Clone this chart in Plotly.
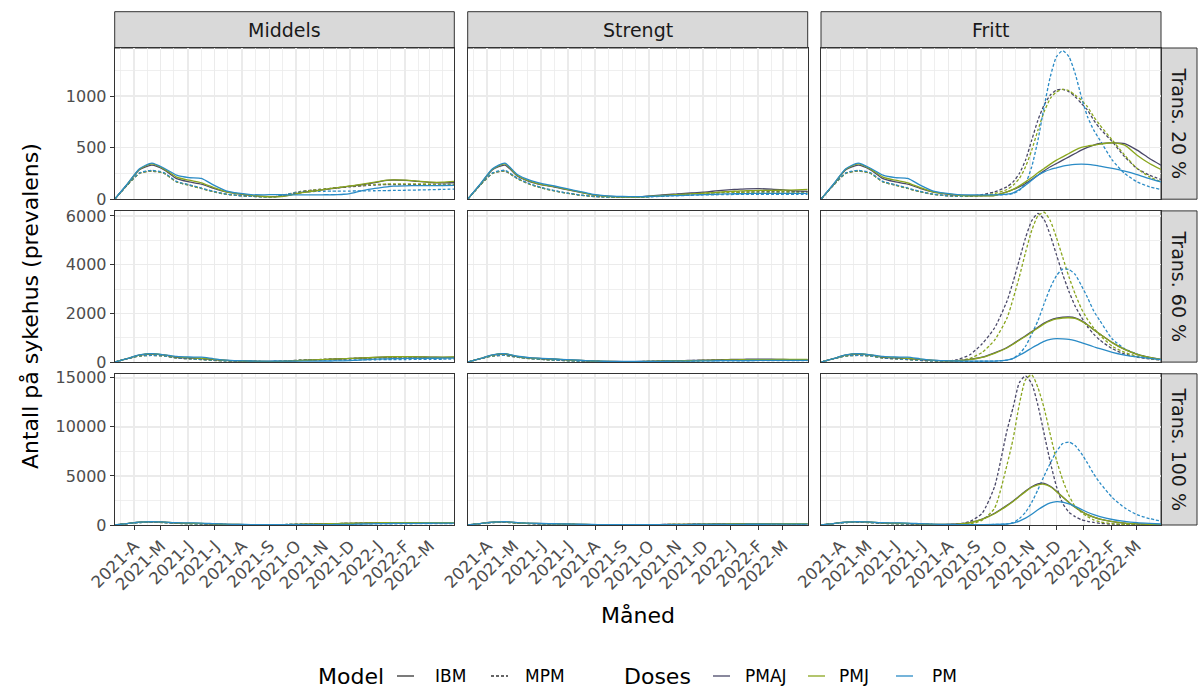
import plotly.graph_objects as go

# ---------------- axes / categories ----------------
dates = ["2021-03-10", "2021-03-24", "2021-04-07", "2021-04-21", "2021-05-05", "2021-05-19",
         "2021-06-02", "2021-06-16", "2021-06-30", "2021-07-14", "2021-07-28", "2021-08-11",
         "2021-08-25", "2021-09-08", "2021-09-22", "2021-10-06", "2021-10-13", "2021-10-20",
         "2021-10-27", "2021-11-03", "2021-11-10", "2021-11-17", "2021-11-24", "2021-12-01",
         "2021-12-08", "2021-12-15", "2021-12-22", "2021-12-29", "2022-01-05", "2022-01-12",
         "2022-01-19", "2022-02-02", "2022-02-16", "2022-03-02", "2022-03-16", "2022-03-29"]
month_ticks = ["2021-04-01", "2021-05-01", "2021-06-01", "2021-07-01", "2021-08-01", "2021-09-01",
               "2021-10-01", "2021-11-01", "2021-12-01", "2022-01-01", "2022-02-01", "2022-03-01"]
month_labels = ["2021-A", "2021-M", "2021-J", "2021-J", "2021-A", "2021-S",
                "2021-O", "2021-N", "2021-D", "2022-J", "2022-F", "2022-M"]
minor_month_ticks = ["2021-03-16", "2021-04-16", "2021-05-16", "2021-06-16", "2021-07-16",
                     "2021-08-16", "2021-09-16", "2021-10-16", "2021-11-16", "2021-12-16",
                     "2022-01-16", "2022-02-16", "2022-03-16"]
columns = ["Middels", "Strengt", "Fritt"]
rows = ["Trans. 20 %", "Trans. 60 %", "Trans. 100 %"]
models = ["MPM", "IBM"]
doses = ["PMAJ", "PMJ", "PM"]
row_y_max = [1466, 6205, 15408]
row_y_dtick = [500, 2000, 5000]

# ---------------- values: first wave (shared by all scenarios) ----------------
early_ibm_pmaj = [0, 140, 285, 330]
early_ibm_pmj = [0, 142, 290, 342]
early_ibm_pm = [0, 145, 295, 350]
early_mpm_pmaj = [0, 135, 250, 272]
early_mpm_pmj = [0, 135, 250, 275]
early_mpm_pm = [0, 138, 255, 280]

# summer (May - mid July)
summer_open_ibm_pmaj = [285, 200, 168, 146, 104, 70]
summer_open_ibm_pmj = [292, 215, 184, 159, 113, 72]
summer_open_ibm_pm = [300, 233, 209, 201, 136, 81]
summer_open_mpm_pmaj = [250, 168, 136, 104, 72, 48]
summer_open_mpm_pmj = [250, 168, 136, 104, 72, 48]
summer_open_mpm_pm = [255, 172, 140, 108, 75, 50]

summer_strict_ibm_pmaj = [225, 170, 138, 118, 92, 68]
summer_strict_ibm_pmj = [230, 175, 142, 122, 95, 70]
summer_strict_ibm_pm = [240, 185, 152, 128, 102, 76]
summer_strict_mpm_pmaj = [200, 145, 108, 80, 58, 40]
summer_strict_mpm_pmj = [200, 145, 108, 80, 58, 40]
summer_strict_mpm_pm = [205, 150, 112, 84, 60, 42]

# ---------------- late period (from end of July) per panel ----------------
M20_IBM_PMAJ = [52, 38, 28, 25, 38, 62, 70, 78, 86, 94, 102, 110, 118, 126, 134, 142, 150, 160, 172, 182, 186, 182, 172, 162, 158, 162]
M20_IBM_PMJ = [54, 38, 26, 22, 35, 60, 68, 77, 86, 95, 104, 112, 120, 128, 137, 146, 155, 165, 176, 185, 188, 185, 175, 165, 165, 172]
M20_IBM_PM = [58, 45, 42, 45, 42, 42, 42, 42, 42, 43, 43, 45, 48, 55, 68, 82, 95, 104, 112, 120, 126, 130, 132, 132, 133, 135]
M20_MPM_PMAJ = [35, 28, 23, 25, 50, 75, 82, 88, 94, 100, 105, 110, 115, 120, 125, 130, 134, 137, 140, 141, 142, 142, 141, 140, 139, 138]
M20_MPM_PMJ = [35, 28, 23, 25, 48, 72, 80, 87, 94, 100, 106, 112, 118, 124, 130, 135, 140, 143, 146, 148, 149, 149, 148, 147, 146, 146]
M20_MPM_PM = [36, 28, 23, 25, 48, 68, 72, 74, 76, 77, 78, 78, 78, 79, 80, 80, 81, 82, 83, 84, 85, 87, 89, 92, 95, 98]

M60_IBM_PMAJ = [52, 38, 28, 25, 40, 68, 78, 88, 98, 108, 118, 128, 138, 148, 158, 168, 178, 190, 202, 212, 218, 222, 215, 205, 198, 200]
M60_IBM_PMJ = [54, 38, 26, 22, 38, 66, 76, 87, 98, 109, 120, 130, 140, 150, 160, 171, 182, 194, 206, 216, 222, 225, 218, 208, 205, 210]
M60_IBM_PM = [58, 45, 42, 45, 42, 42, 42, 43, 44, 45, 46, 48, 52, 60, 75, 90, 105, 118, 128, 136, 142, 150, 155, 158, 160, 162]
M60_MPM_PMAJ = [35, 28, 23, 25, 52, 80, 88, 96, 104, 112, 120, 128, 136, 144, 152, 158, 164, 168, 172, 175, 177, 180, 180, 180, 178, 176]
M60_MPM_PMJ = [35, 28, 23, 25, 50, 78, 86, 95, 104, 113, 122, 130, 138, 146, 154, 161, 167, 172, 176, 180, 182, 184, 184, 183, 182, 180]
M60_MPM_PM = [36, 28, 23, 25, 50, 70, 75, 78, 80, 82, 84, 85, 86, 88, 90, 92, 94, 96, 98, 100, 102, 106, 110, 114, 118, 122]

M100_IBM_PMAJ = [52, 38, 28, 25, 42, 72, 84, 96, 108, 120, 132, 144, 156, 168, 180, 192, 204, 216, 228, 238, 245, 250, 242, 230, 222, 225]
M100_IBM_PMJ = [54, 38, 26, 22, 40, 70, 82, 95, 108, 121, 134, 146, 158, 170, 182, 195, 208, 220, 232, 242, 248, 252, 245, 234, 230, 236]
M100_IBM_PM = [58, 45, 42, 45, 42, 42, 43, 44, 45, 46, 48, 50, 55, 65, 82, 100, 116, 130, 142, 150, 158, 168, 175, 180, 184, 188]
M100_MPM_PMAJ = [35, 28, 23, 25, 55, 85, 95, 105, 115, 125, 135, 145, 155, 165, 174, 182, 188, 193, 197, 200, 202, 205, 205, 204, 202, 200]
M100_MPM_PMJ = [35, 28, 23, 25, 52, 82, 93, 104, 115, 126, 137, 147, 157, 167, 176, 184, 190, 196, 200, 204, 206, 208, 208, 207, 206, 204]
M100_MPM_PM = [36, 28, 23, 25, 52, 74, 80, 84, 88, 90, 92, 94, 96, 98, 101, 104, 107, 110, 113, 116, 120, 126, 132, 138, 144, 150]

S20_IBM_PMAJ = [45, 32, 25, 22, 25, 35, 40, 44, 48, 52, 56, 60, 64, 68, 74, 80, 85, 90, 94, 97, 100, 102, 98, 90, 80, 75]
S20_IBM_PMJ = [45, 30, 23, 20, 22, 30, 34, 38, 42, 45, 48, 52, 55, 58, 62, 66, 70, 74, 77, 80, 82, 85, 86, 88, 90, 94]
S20_IBM_PM = [50, 35, 28, 25, 25, 28, 30, 32, 34, 36, 38, 40, 42, 44, 46, 48, 50, 52, 53, 54, 55, 56, 56, 56, 56, 56]
S20_MPM_PMAJ = [28, 22, 20, 20, 22, 30, 35, 40, 44, 48, 52, 55, 58, 60, 62, 64, 66, 68, 70, 70, 71, 72, 72, 72, 72, 72]
S20_MPM_PMJ = [28, 22, 20, 20, 21, 27, 31, 35, 39, 43, 46, 49, 52, 55, 57, 59, 61, 63, 65, 66, 67, 68, 69, 70, 70, 70]
S20_MPM_PM = [29, 22, 20, 20, 20, 24, 27, 30, 32, 34, 36, 38, 40, 41, 42, 43, 44, 45, 46, 46, 47, 47, 48, 48, 48, 48]

S60_IBM_PMAJ = [45, 32, 25, 22, 26, 38, 44, 49, 54, 59, 64, 69, 74, 79, 85, 92, 98, 104, 109, 113, 116, 119, 116, 108, 98, 92]
S60_IBM_PMJ = [45, 30, 23, 20, 23, 33, 37, 42, 47, 51, 55, 60, 64, 68, 73, 78, 83, 88, 92, 96, 99, 103, 105, 107, 110, 114]
S60_IBM_PM = [50, 35, 28, 25, 25, 29, 31, 34, 37, 39, 42, 44, 47, 49, 52, 55, 58, 60, 62, 64, 65, 67, 68, 69, 70, 70]
S60_MPM_PMAJ = [28, 22, 20, 20, 23, 33, 39, 45, 50, 55, 60, 64, 68, 71, 74, 77, 80, 82, 84, 85, 86, 87, 88, 88, 88, 88]
S60_MPM_PMJ = [28, 22, 20, 20, 22, 30, 35, 40, 45, 50, 54, 58, 62, 65, 68, 71, 74, 76, 78, 80, 81, 83, 84, 85, 85, 85]
S60_MPM_PM = [29, 22, 20, 20, 21, 26, 29, 32, 35, 37, 40, 42, 44, 46, 48, 50, 51, 52, 54, 55, 56, 57, 58, 59, 60, 60]

S100_IBM_PMAJ = [45, 32, 25, 22, 27, 41, 48, 54, 60, 66, 72, 78, 84, 90, 97, 104, 111, 118, 124, 129, 133, 137, 134, 126, 116, 110]
S100_IBM_PMJ = [45, 30, 23, 20, 24, 36, 41, 46, 52, 57, 62, 68, 73, 78, 84, 90, 96, 102, 107, 111, 115, 120, 123, 126, 130, 134]
S100_IBM_PM = [50, 35, 28, 25, 25, 30, 33, 36, 39, 42, 45, 48, 51, 54, 57, 61, 64, 67, 70, 72, 74, 77, 79, 80, 82, 82]
S100_MPM_PMAJ = [28, 22, 20, 20, 24, 36, 43, 50, 56, 62, 67, 72, 77, 81, 85, 89, 92, 95, 97, 99, 100, 102, 103, 104, 104, 104]
S100_MPM_PMJ = [28, 22, 20, 20, 23, 33, 39, 45, 51, 57, 62, 67, 71, 75, 79, 82, 86, 89, 91, 93, 95, 97, 99, 100, 100, 100]
S100_MPM_PM = [29, 22, 20, 20, 22, 28, 31, 34, 38, 41, 44, 47, 50, 52, 55, 57, 59, 61, 63, 65, 66, 68, 70, 71, 72, 72]

F20_IBM_PMAJ = [52, 40, 35, 35, 38, 71, 94, 120, 152, 191, 233, 275, 314, 346, 379, 411, 443, 476, 502, 524, 540, 547, 540, 476, 395, 330]
F20_IBM_PMJ = [54, 40, 33, 32, 36, 71, 96, 129, 168, 210, 256, 298, 340, 379, 411, 443, 476, 502, 515, 524, 534, 547, 524, 427, 346, 288]
F20_IBM_PM = [58, 45, 42, 42, 42, 49, 61, 94, 136, 184, 233, 265, 288, 304, 320, 330, 337, 340, 337, 330, 320, 298, 272, 239, 200, 168]
F20_MPM_PMAJ = [35, 30, 32, 45, 71, 120, 168, 249, 379, 573, 767, 913, 1010, 1058, 1065, 1042, 994, 929, 864, 767, 686, 557, 411, 298, 233, 191]
F20_MPM_PMJ = [35, 28, 28, 35, 55, 94, 136, 200, 314, 476, 670, 848, 977, 1042, 1065, 1052, 1010, 961, 896, 800, 718, 573, 427, 298, 217, 168]
F20_MPM_PM = [36, 30, 30, 35, 40, 45, 55, 87, 152, 314, 573, 896, 1188, 1382, 1440, 1382, 1220, 994, 800, 670, 573, 379, 249, 168, 120, 94]

F60_IBM_PMAJ = [52, 60, 110, 200, 380, 600, 750, 920, 1080, 1250, 1430, 1600, 1720, 1800, 1840, 1850, 1820, 1700, 1530, 1330, 1150, 800, 520, 320, 190, 110]
F60_IBM_PMJ = [54, 55, 100, 190, 360, 580, 730, 900, 1060, 1230, 1400, 1570, 1690, 1770, 1810, 1820, 1790, 1680, 1520, 1330, 1150, 800, 520, 320, 190, 110]
F60_IBM_PM = [58, 45, 42, 42, 40, 80, 150, 280, 420, 580, 720, 850, 930, 960, 950, 930, 880, 800, 720, 630, 550, 400, 290, 210, 150, 100]
F60_MPM_PMAJ = [40, 100, 300, 750, 1400, 2500, 3300, 4200, 5100, 5800, 6100, 5850, 5200, 4400, 3600, 2900, 2300, 1850, 1450, 1150, 900, 550, 330, 200, 130, 80]
F60_MPM_PMJ = [36, 50, 150, 400, 900, 1800, 2600, 3500, 4500, 5400, 6000, 6150, 5800, 5100, 4300, 3500, 2800, 2200, 1750, 1400, 1100, 650, 400, 240, 150, 90]
F60_MPM_PM = [36, 30, 30, 35, 40, 80, 150, 330, 650, 1150, 1700, 2400, 3050, 3550, 3820, 3800, 3600, 3150, 2650, 2100, 1700, 950, 550, 330, 180, 100]

F100_IBM_PMAJ = [52, 100, 250, 600, 1200, 2000, 2450, 2950, 3450, 3900, 4200, 4250, 3950, 3450, 2850, 2300, 1800, 1400, 1050, 800, 600, 350, 200, 120, 70, 40]
F100_IBM_PMJ = [54, 90, 230, 570, 1150, 1950, 2400, 2900, 3400, 3850, 4100, 4150, 3900, 3400, 2850, 2300, 1800, 1400, 1050, 800, 600, 350, 200, 120, 70, 40]
F100_IBM_PM = [58, 45, 42, 42, 50, 100, 200, 400, 700, 1100, 1550, 1950, 2250, 2380, 2330, 2150, 1900, 1600, 1300, 1050, 850, 560, 370, 240, 160, 100]
F100_MPM_PMAJ = [40, 100, 350, 1200, 3900, 9600, 12000, 14500, 15200, 14400, 12200, 9300, 6400, 3900, 2200, 1300, 850, 550, 380, 260, 170, 90, 50, 30, 20, 15]
F100_MPM_PMJ = [36, 40, 100, 500, 1700, 6100, 8800, 12300, 14800, 15300, 14000, 11900, 9200, 6600, 4600, 3000, 1900, 1300, 850, 520, 330, 130, 60, 30, 20, 15]
F100_MPM_PM = [36, 30, 30, 35, 50, 100, 250, 650, 1300, 2300, 3600, 5000, 6300, 7500, 8300, 8450, 8100, 7300, 6300, 5200, 4300, 2800, 1750, 1050, 650, 400]

# ---------------- assemble lookup tables ----------------
EARLY = {("IBM", "PMAJ"): early_ibm_pmaj, ("IBM", "PMJ"): early_ibm_pmj, ("IBM", "PM"): early_ibm_pm,
         ("MPM", "PMAJ"): early_mpm_pmaj, ("MPM", "PMJ"): early_mpm_pmj, ("MPM", "PM"): early_mpm_pm}
SUMMER_OPEN = {("IBM", "PMAJ"): summer_open_ibm_pmaj, ("IBM", "PMJ"): summer_open_ibm_pmj,
               ("IBM", "PM"): summer_open_ibm_pm, ("MPM", "PMAJ"): summer_open_mpm_pmaj,
               ("MPM", "PMJ"): summer_open_mpm_pmj, ("MPM", "PM"): summer_open_mpm_pm}
SUMMER_STRICT = {("IBM", "PMAJ"): summer_strict_ibm_pmaj, ("IBM", "PMJ"): summer_strict_ibm_pmj,
                 ("IBM", "PM"): summer_strict_ibm_pm, ("MPM", "PMAJ"): summer_strict_mpm_pmaj,
                 ("MPM", "PMJ"): summer_strict_mpm_pmj, ("MPM", "PM"): summer_strict_mpm_pm}
SUMMER = {"Middels": SUMMER_OPEN, "Strengt": SUMMER_STRICT, "Fritt": SUMMER_OPEN}


def late_set(a, b, c, d, e, f):
    return {("IBM", "PMAJ"): a, ("IBM", "PMJ"): b, ("IBM", "PM"): c,
            ("MPM", "PMAJ"): d, ("MPM", "PMJ"): e, ("MPM", "PM"): f}


LATE = {
    ("Middels", 0): late_set(M20_IBM_PMAJ, M20_IBM_PMJ, M20_IBM_PM, M20_MPM_PMAJ, M20_MPM_PMJ, M20_MPM_PM),
    ("Middels", 1): late_set(M60_IBM_PMAJ, M60_IBM_PMJ, M60_IBM_PM, M60_MPM_PMAJ, M60_MPM_PMJ, M60_MPM_PM),
    ("Middels", 2): late_set(M100_IBM_PMAJ, M100_IBM_PMJ, M100_IBM_PM, M100_MPM_PMAJ, M100_MPM_PMJ, M100_MPM_PM),
    ("Strengt", 0): late_set(S20_IBM_PMAJ, S20_IBM_PMJ, S20_IBM_PM, S20_MPM_PMAJ, S20_MPM_PMJ, S20_MPM_PM),
    ("Strengt", 1): late_set(S60_IBM_PMAJ, S60_IBM_PMJ, S60_IBM_PM, S60_MPM_PMAJ, S60_MPM_PMJ, S60_MPM_PM),
    ("Strengt", 2): late_set(S100_IBM_PMAJ, S100_IBM_PMJ, S100_IBM_PM, S100_MPM_PMAJ, S100_MPM_PMJ, S100_MPM_PM),
    ("Fritt", 0): late_set(F20_IBM_PMAJ, F20_IBM_PMJ, F20_IBM_PM, F20_MPM_PMAJ, F20_MPM_PMJ, F20_MPM_PM),
    ("Fritt", 1): late_set(F60_IBM_PMAJ, F60_IBM_PMJ, F60_IBM_PM, F60_MPM_PMAJ, F60_MPM_PMJ, F60_MPM_PM),
    ("Fritt", 2): late_set(F100_IBM_PMAJ, F100_IBM_PMJ, F100_IBM_PM, F100_MPM_PMAJ, F100_MPM_PMJ, F100_MPM_PM),
}

# ---------------- styles ----------------
dose_colors = {"PMAJ": "#4a4868", "PMJ": "#8aa61e", "PM": "#2a8bc6"}
model_dash = {"IBM": "solid", "MPM": "3px,2px"}
FONT = "DejaVu Sans"
W, H = 1200, 689
col_px = [(114.7, 454.3), (467.7, 807.7), (821.0, 1161.0)]
row_px = [(48.0, 199.2), (210.9, 362.1), (373.8, 525.0)]
strip_top_px = 11.7
rstrip_px = (1161.0, 1197.0)
TICK_SIZE = 16
STRIP_SIZE = 19
TITLE_SIZE = 22


def px_x(p):
    return p / W


def px_y(p):
    return 1 - p / H


fig = go.Figure()
layout_axes = {}
for r in range(3):
    for c in range(3):
        k = r * 3 + c + 1
        xa = "x" if k == 1 else f"x{k}"
        ya = "y" if k == 1 else f"y{k}"
        col = columns[c]
        for model in models:
            for dose in doses:
                yvals = EARLY[(model, dose)] + SUMMER[col][(model, dose)] + LATE[(col, r)][(model, dose)]
                fig.add_trace(go.Scatter(
                    x=dates, y=yvals, mode="lines", xaxis=xa, yaxis=ya, showlegend=False,
                    line=dict(color=dose_colors[dose], width=1.3, dash=model_dash[model],
                              shape="spline", smoothing=0.6),
                    name=f"{model} {dose}", hoverinfo="skip"))
        bottom = (r == 2)
        left = (c == 0)
        layout_axes["xaxis" if k == 1 else f"xaxis{k}"] = dict(
            domain=[px_x(col_px[c][0]), px_x(col_px[c][1])], anchor=ya, type="date",
            range=["2021-03-10", "2022-03-29"], tickmode="array", tickvals=month_ticks,
            ticktext=month_labels if bottom else [""] * len(month_ticks),
            showticklabels=bottom, tickangle=-45, automargin=False,
            ticks="outside" if bottom else "", ticklen=4, tickwidth=1, tickcolor="#333333",
            tickfont=dict(family=FONT, size=16.5, color="#4d4d4d"),
            showgrid=True, gridcolor="#ebebeb", gridwidth=1.5,
            minor=dict(tickmode="array", tickvals=minor_month_ticks, showgrid=True,
                       gridcolor="#ebebeb", gridwidth=0.8, ticks=""),
            showline=True, mirror=True, linecolor="#333333", linewidth=1,
            zeroline=False, fixedrange=True)
        layout_axes["yaxis" if k == 1 else f"yaxis{k}"] = dict(
            domain=[px_y(row_px[r][1]), px_y(row_px[r][0])], anchor=xa,
            range=[0, row_y_max[r]], dtick=row_y_dtick[r], tick0=0, tickformat="d",
            automargin=False,
            showticklabels=left, ticks="outside" if left else "", ticklen=4, tickwidth=1,
            tickcolor="#333333", tickfont=dict(family=FONT, size=TICK_SIZE, color="#4d4d4d"),
            showgrid=True, gridcolor="#ebebeb", gridwidth=1.5,
            minor=dict(dtick=row_y_dtick[r] / 2, tick0=0, showgrid=True, gridcolor="#ebebeb",
                       gridwidth=0.8, ticks=""),
            showline=True, mirror=True, linecolor="#333333", linewidth=1,
            zeroline=False, fixedrange=True)

shapes = []
annotations = []
# top strips
for c, name in enumerate(columns):
    x0, x1 = col_px[c]
    shapes.append(dict(type="rect", xref="paper", yref="paper", x0=px_x(x0), x1=px_x(x1),
                       y0=px_y(row_px[0][0]), y1=px_y(strip_top_px),
                       fillcolor="#d9d9d9", line=dict(color="#333333", width=1), layer="below"))
    annotations.append(dict(text=name, xref="paper", yref="paper", x=px_x((x0 + x1) / 2),
                            y=px_y((strip_top_px + row_px[0][0]) / 2), showarrow=False,
                            xanchor="center", yanchor="middle",
                            font=dict(family=FONT, size=STRIP_SIZE, color="#1a1a1a")))
# right strips
for r, name in enumerate(rows):
    y0, y1 = row_px[r]
    shapes.append(dict(type="rect", xref="paper", yref="paper", x0=px_x(rstrip_px[0]),
                       x1=px_x(rstrip_px[1]), y0=px_y(y1), y1=px_y(y0),
                       fillcolor="#d9d9d9", line=dict(color="#333333", width=1), layer="below"))
    annotations.append(dict(text=name, xref="paper", yref="paper",
                            x=px_x((rstrip_px[0] + rstrip_px[1]) / 2), y=px_y((y0 + y1) / 2),
                            showarrow=False, textangle=90, xanchor="center", yanchor="middle",
                            font=dict(family=FONT, size=STRIP_SIZE, color="#1a1a1a")))

# axis titles
annotations.append(dict(text="Antall på sykehus (prevalens)", xref="paper", yref="paper",
                        x=px_x(30), y=px_y(306), showarrow=False, textangle=-90,
                        xanchor="center", yanchor="middle",
                        font=dict(family=FONT, size=TITLE_SIZE, color="black")))
annotations.append(dict(text="Måned", xref="paper", yref="paper",
                        x=px_x((col_px[0][0] + col_px[2][1]) / 2), y=px_y(615), showarrow=False,
                        xanchor="center", yanchor="middle",
                        font=dict(family=FONT, size=TITLE_SIZE, color="black")))

# legend (drawn manually to mirror the ggplot layout)
leg_y = 676
legend_titles = [("Model", 317), ("Doses", 623)]
for txt, xl in legend_titles:
    annotations.append(dict(text=txt, xref="paper", yref="paper", x=px_x(xl), y=px_y(leg_y),
                            showarrow=False, xanchor="left", yanchor="middle", borderpad=0,
                            font=dict(family=FONT, size=TITLE_SIZE, color="black")))
legend_items = [("IBM", "#333333", "solid", 397, 434), ("MPM", "#333333", "3px,2px", 491, 524),
                ("PMAJ", dose_colors["PMAJ"], "solid", 713, 744),
                ("PMJ", dose_colors["PMJ"], "solid", 808, 838),
                ("PM", dose_colors["PM"], "solid", 896, 931)]
for label, color, dash, kx, tx in legend_items:
    shapes.append(dict(type="line", xref="paper", yref="paper", x0=px_x(kx), x1=px_x(kx + 17),
                       y0=px_y(leg_y), y1=px_y(leg_y), line=dict(color=color, width=1.3, dash=dash)))
    annotations.append(dict(text=label, xref="paper", yref="paper", x=px_x(tx), y=px_y(leg_y),
                            showarrow=False, xanchor="left", yanchor="middle", borderpad=0,
                            font=dict(family=FONT, size=17, color="black")))

fig.update_layout(
    width=W, height=H, margin=dict(l=0, r=0, t=0, b=0, autoexpand=False),
    paper_bgcolor="white", plot_bgcolor="white",
    font=dict(family=FONT), showlegend=False,
    shapes=shapes, annotations=annotations, **layout_axes)

fig.write_html("out.html", config={"displayModeBar": False, "staticPlot": True},
               post_script="document.body.style.margin='0px';document.body.style.overflow='hidden';")
